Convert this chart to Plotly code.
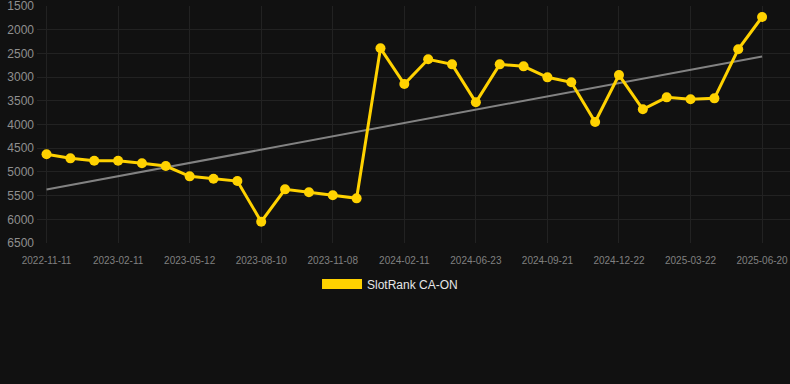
import numpy as np
import plotly.graph_objects as go

dates = [
    "2022-11-11", "2022-12-12", "2023-01-11", "2023-02-11", "2023-03-13", "2023-04-12",
    "2023-05-12", "2023-06-11", "2023-07-11", "2023-08-10", "2023-09-09", "2023-10-09",
    "2023-11-08", "2023-12-08", "2024-01-07", "2024-02-11", "2024-03-26", "2024-05-09",
    "2024-06-23", "2024-07-23", "2024-08-22", "2024-09-21", "2024-10-22", "2024-11-21",
    "2024-12-22", "2025-01-21", "2025-02-20", "2025-03-22", "2025-04-21", "2025-05-21",
    "2025-06-20",
]
ranks = [
    4629, 4714, 4764, 4764, 4819, 4876, 5094, 5143, 5193, 6051, 5368, 5431, 5494, 5558,
    2393, 3146, 2625, 2731, 3532, 2731, 2773, 3005, 3110, 3948, 2956, 3680, 3427, 3469,
    3448, 2414, 1732,
]
tick_dates = dates[::3]
y_ticks = [1500, 2000, 2500, 3000, 3500, 4000, 4500, 5000, 5500, 6000, 6500]
series_name = "SlotRank CA-ON"

idx = np.arange(len(ranks))
slope, intercept = np.polyfit(idx, ranks, 1)
trend = [intercept, intercept + slope * (len(ranks) - 1)]

YELLOW = "#FFD200"
BG = "#111111"

fig = go.Figure()
fig.add_trace(go.Scatter(
    x=[dates[0], dates[-1]], y=trend, mode="lines",
    line=dict(color="rgba(150,150,150,0.85)", width=2),
    showlegend=False, hoverinfo="skip",
))
fig.add_trace(go.Scatter(
    x=dates, y=ranks, mode="lines+markers", name=series_name,
    line=dict(color=YELLOW, width=3),
    marker=dict(color=YELLOW, size=10),
    showlegend=False,
))
fig.add_trace(go.Scatter(
    x=[None], y=[None], mode="lines", name=series_name,
    line=dict(color=YELLOW, width=11),
    showlegend=True,
))

fig.update_layout(
    width=790, height=384,
    paper_bgcolor=BG, plot_bgcolor=BG,
    margin=dict(l=37, r=0, t=6, b=141, autoexpand=False),
    font=dict(family="Liberation Sans, Arial, sans-serif", color="#999999"),
    xaxis=dict(
        type="category", categoryorder="array", categoryarray=dates,
        range=[-0.4, len(dates) - 1 + 1.17],
        tickmode="array", tickvals=tick_dates, ticktext=tick_dates,
        tickfont=dict(size=10, color="#808080"), tickangle=0,
        showgrid=True, gridcolor="#222222", gridwidth=1,
        zeroline=False, showline=False,
        ticks="outside", ticklen=8, tickcolor="rgba(0,0,0,0)",
    ),
    yaxis=dict(
        range=[6500.01, 1499.9], tickvals=y_ticks, ticktext=[str(v) for v in y_ticks],
        tickfont=dict(size=12, color="#8f8f8f"), ticklabeloverflow="allow",
        showgrid=True, gridcolor="#222222", gridwidth=1,
        zeroline=False, showline=False, ticks="", ticklabelstandoff=2,
    ),
    legend=dict(
        orientation="h", xref="container", x=0.4937, xanchor="center",
        y=-0.173, yanchor="middle",
        font=dict(size=12, color="#e6e6e6"), itemwidth=40,
        bgcolor="rgba(0,0,0,0)",
    ),
)

fig.write_html(
    "out.html",
    config={"displayModeBar": False},
    post_script="document.body.style.margin='0';document.body.style.background='#111111';",
)
